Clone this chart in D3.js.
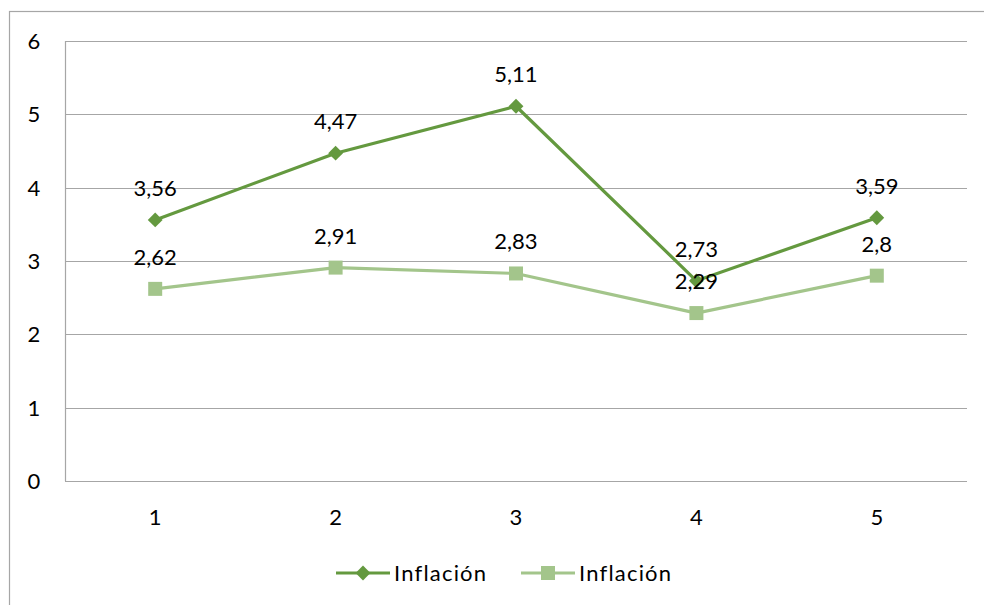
<!DOCTYPE html>
<html>
<head>
<meta charset="utf-8">
<script src="https://cdn.jsdelivr.net/npm/d3@7"></script>
<style>
  body { margin: 0; background: #fff; }
  text { font-family: Lato, "Open Sans", sans-serif; fill: #000; }
</style>
</head>
<body>
<script>
var categories = ["1", "2", "3", "4", "5"];
var seriesNames = ["Inflación", "Inflación"];
var darkValues = [3.56, 4.47, 5.11, 2.73, 3.59];
var lightValues = [2.62, 2.91, 2.83, 2.29, 2.8];
var yTicks = [0, 1, 2, 3, 4, 5, 6];

var width = 984, height = 605;
var plot = { left: 65, right: 967, top: 41, bottom: 481 };
var colors = { dark: "#64993f", light: "#a3c58b", grid: "#a6a6a6", frame: "#a6a6a6" };
var fontSize = 22;

var svg = d3.select("body").append("svg")
    .attr("width", width)
    .attr("height", height);

// outer chart frame (runs off the right and bottom edge)
svg.append("rect")
    .attr("x", 9.5).attr("y", 11.5)
    .attr("width", 1000).attr("height", 700)
    .attr("fill", "none").attr("stroke", colors.frame).attr("stroke-width", 1.2);

var x = d3.scaleBand().domain(categories).range([plot.left, plot.right]);
var y = d3.scaleLinear().domain([0, 6]).range([plot.bottom, plot.top]);

// gridlines
svg.append("g").selectAll("line").data(yTicks).enter().append("line")
    .attr("x1", plot.left).attr("x2", plot.right)
    .attr("y1", function (d) { return Math.round(y(d)) + 0.5; })
    .attr("y2", function (d) { return Math.round(y(d)) + 0.5; })
    .attr("stroke", colors.grid).attr("stroke-width", 1.2);

// vertical axis line
svg.append("line")
    .attr("x1", plot.left + 0.5).attr("x2", plot.left + 0.5)
    .attr("y1", plot.top).attr("y2", plot.bottom)
    .attr("stroke", colors.grid).attr("stroke-width", 1.2);

// y tick labels
svg.append("g").selectAll("text").data(yTicks).enter().append("text")
    .attr("x", 34).attr("y", function (d) { return y(d) + 8; })
    .attr("text-anchor", "middle").attr("font-size", fontSize)
    .text(function (d) { return d; });

// x tick labels
svg.append("g").selectAll("text").data(categories).enter().append("text")
    .attr("x", function (d) { return x(d) + x.bandwidth() / 2; })
    .attr("y", 525)
    .attr("text-anchor", "middle").attr("font-size", fontSize)
    .text(function (d) { return d; });

var cx = function (d, i) { return x(categories[i]) + x.bandwidth() / 2; };
var line = d3.line().x(cx).y(function (d) { return y(d); });
var fmt = function (d) { return String(d).replace(".", ","); };

function drawSeries(values, color, shape, size) {
    var g = svg.append("g");
    g.append("path").datum(values)
        .attr("d", line)
        .attr("fill", "none").attr("stroke", color).attr("stroke-width", 3.2)
        .attr("stroke-linejoin", "round");
    g.selectAll("path.m").data(values).enter().append("path")
        .attr("class", "m")
        .attr("transform", function (d, i) { return "translate(" + cx(d, i) + "," + y(d) + ")" + (shape === "diamond" ? " rotate(45)" : ""); })
        .attr("d", d3.symbol().type(d3.symbolSquare).size(size))
        .attr("fill", color);
    return g;
}

drawSeries(lightValues, colors.light, "square", 196);
drawSeries(darkValues, colors.dark, "diamond", 110);

// data labels
svg.append("g").selectAll("text").data(lightValues).enter().append("text")
    .attr("x", cx).attr("y", function (d) { return y(d) - 24; })
    .attr("text-anchor", "middle").attr("font-size", fontSize)
    .text(fmt);
svg.append("g").selectAll("text").data(darkValues).enter().append("text")
    .attr("x", cx).attr("y", function (d) { return y(d) - 24; })
    .attr("text-anchor", "middle").attr("font-size", fontSize)
    .text(fmt);

// legend
var legend = [
    { name: seriesNames[0], color: colors.dark, shape: "diamond", size: 110, x: 336 },
    { name: seriesNames[1], color: colors.light, shape: "square", size: 196, x: 521 }
];
var lg = svg.append("g").selectAll("g").data(legend).enter().append("g")
    .attr("transform", function (d) { return "translate(" + d.x + ",573)"; });
lg.append("line").attr("x1", 0).attr("x2", 54)
    .attr("stroke", function (d) { return d.color; }).attr("stroke-width", 3.2);
lg.append("path")
    .attr("transform", function (d) { return "translate(27,0)" + (d.shape === "diamond" ? " rotate(45)" : ""); })
    .attr("d", function (d) { return d3.symbol().type(d3.symbolSquare).size(d.size)(); })
    .attr("fill", function (d) { return d.color; });
lg.append("text").attr("x", 58).attr("y", 8).attr("font-size", fontSize)
    .attr("letter-spacing", 1.2)
    .text(function (d) { return d.name; });
</script>
</body>
</html>
